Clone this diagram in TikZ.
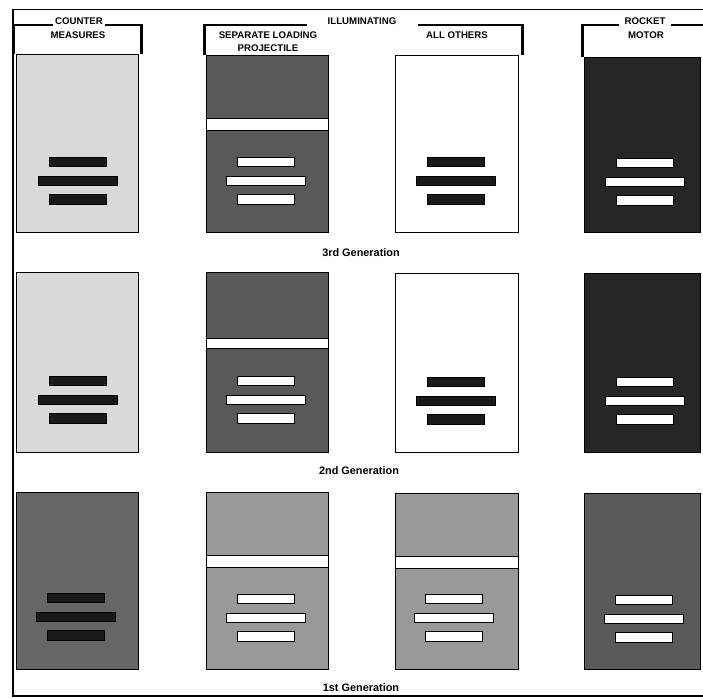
\documentclass[tikz,border=0pt]{standalone}
\usepackage{fontspec}
\setsansfont{Liberation Sans}

% three bars of a round: x centre, top y, fill
\newcommand{\roundbars}[3]{
  \filldraw[bar, fill=#3] (#1-28.5,#2) rectangle (#1+28.5,#2+9.5);
  \filldraw[bar, fill=#3] (#1-39.5,#2+19) rectangle (#1+39.5,#2+28.5);
  \filldraw[bar, fill=#3] (#1-28.5,#2+37.5) rectangle (#1+28.5,#2+47);
}

\begin{document}
\begin{tikzpicture}[x=0.02cm,y=-0.02cm,
    panel/.style={draw=black, line width=0.5pt},
    bar/.style={draw=black, line width=0.4pt},
    band/.style={draw=black, fill=white, line width=0.4pt},
    brace/.style={line width=1.8pt},
    topline/.style={line width=0.9pt},
    headtext/.style={font=\sffamily\bfseries\fontsize{5.5}{6}\selectfont, inner sep=1pt, fill=white},
    gen/.style={font=\sffamily\bfseries\fontsize{6.2}{7}\selectfont}]
  \useasboundingbox (0,0) rectangle (703,698);

  % outer frame
  \draw[line width=0.9pt] (703,9.5) -- (13,9.5) -- (13,696) -- (703,696);

  % headers
  \draw[topline] (12,25) -- (143,25);
  \draw[brace] (13.5,25) -- (13.5,54);
  \draw[brace] (141.5,25) -- (141.5,54);
  \node[headtext] (counter) at (79,21) {COUNTER};
  \node[headtext] (measures) at (78,35) {MEASURES};

  \draw[topline] (203,25) -- (307,25);
  \draw[topline] (418,25) -- (524,25);
  \draw[brace] (204.5,25) -- (204.5,55);
  \draw[brace] (522.5,25) -- (522.5,55);
  \node[headtext, fill=none] (illum) at (362,21) {ILLUMINATING};
  \node[headtext] (sep) at (268,35) {SEPARATE LOADING};
  \node[headtext] (proj) at (268,48) {PROJECTILE};
  \node[headtext] (others) at (457,35) {ALL OTHERS};

  \draw[topline] (581,25) -- (703,25);
  \draw[brace] (582.5,25) -- (582.5,57);
  \node[headtext, inner xsep=3pt] (rocket) at (645,21) {ROCKET};
  \node[headtext] (motor) at (646,35) {MOTOR};

  % 3rd generation
  \filldraw[panel, fill=black!15] (16,54) rectangle (138,232);
  \roundbars{78}{157}{black!90}
  \filldraw[panel, fill=black!65] (206,55) rectangle (328,232);
  \filldraw[band] (206,118) rectangle (328,130);
  \roundbars{266}{157}{white}
  \filldraw[panel, fill=white] (395,55) rectangle (518,232);
  \roundbars{456}{157}{black!90}
  \filldraw[panel, fill=black!85] (584,57) rectangle (700,232);
  \roundbars{645}{158}{white}
  \node[gen] (g3) at (361,253) {3rd Generation};

  % 2nd generation
  \filldraw[panel, fill=black!15] (16,272) rectangle (138,452);
  \roundbars{78}{376}{black!90}
  \filldraw[panel, fill=black!65] (206,272) rectangle (328,452);
  \filldraw[band] (206,338) rectangle (328,348);
  \roundbars{266}{376}{white}
  \filldraw[panel, fill=white] (395,273) rectangle (518,452);
  \roundbars{456}{377}{black!90}
  \filldraw[panel, fill=black!85] (584,273) rectangle (700,452);
  \roundbars{645}{377}{white}
  \node[gen] (g2) at (359,471) {2nd Generation};

  % 1st generation
  \filldraw[panel, fill=black!60] (16,492) rectangle (138,669);
  \roundbars{76}{593}{black!90}
  \filldraw[panel, fill=black!40] (206,492) rectangle (328,669);
  \filldraw[band] (206,555) rectangle (328,567);
  \roundbars{266}{594}{white}
  \filldraw[panel, fill=black!40] (395,493) rectangle (518,669);
  \filldraw[band] (395,556) rectangle (518,568);
  \roundbars{454}{594}{white}
  \filldraw[panel, fill=black!65] (584,493) rectangle (700,669);
  \roundbars{644}{595}{white}
  \node[gen] (g1) at (361,688) {1st Generation};
\end{tikzpicture}
\end{document}
